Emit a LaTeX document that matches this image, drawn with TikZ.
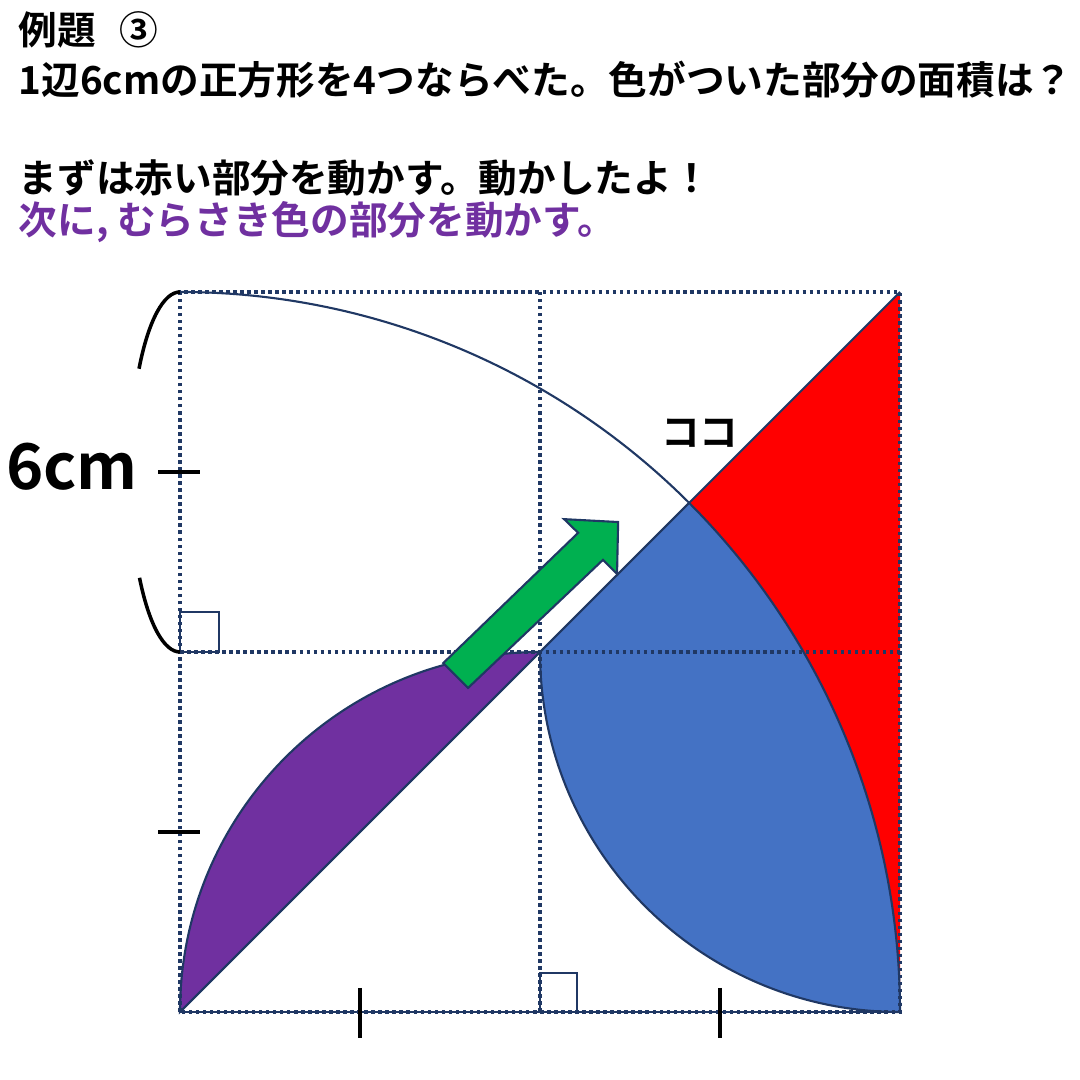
\documentclass[tikz,border=0pt]{standalone}
\usepackage{fontspec}
\setmainfont{Noto Sans CJK JP}[BoldFont={Noto Sans CJK JP Bold}]
\usepackage{tikz}
\definecolor{navy}{HTML}{203864}
\definecolor{murasaki}{HTML}{7030A0}
\definecolor{aoi}{HTML}{4472C4}
\definecolor{midori}{HTML}{00B050}

\begin{document}
\begin{tikzpicture}[x=3.6cm, y=3.6cm,
    grid line/.style={draw=navy, densely dotted, line width=1pt},
    edge line/.style={draw=navy, line width=0.6pt},
    tick/.style={black, line width=1pt},
    mondai/.style={font=\bfseries\fontsize{11pt}{13pt}\selectfont, anchor=west, inner sep=0pt}]
    \useasboundingbox (-0.5, -0.18889) rectangle (2.5, 2.81111);
    % colored parts
    \fill[red] (2, 2) -- (2, 0) arc[start angle=0, end angle=45, radius=2] -- cycle;
    \filldraw[edge line, fill=aoi] (1, 1) -- (45:2) arc[start angle=45, end angle=0, radius=2]
        arc[start angle=270, end angle=180, radius=1] -- cycle;
    \filldraw[edge line, fill=murasaki] (0, 0) arc[start angle=180, end angle=90, radius=1] -- cycle;
    \draw[edge line] (0, 2) arc[start angle=90, end angle=45, radius=2];
    \draw[edge line] (0, 0) -- (2, 2);
    % squares
    \draw[grid line] (0, 0) rectangle (2, 2);
    \draw[grid line] (1, 0) -- (1, 2);
    \draw[grid line] (0, 1) -- (2, 1);
    \draw[edge line] (0, 0) -- (2, 0);
    \draw[edge line] (0, 1) rectangle (0.108, 1.11);
    \draw[edge line] (1, 0) rectangle (1.103, 0.108);
    % marks
    \draw[tick] (-0.06, 1.5) -- (0.055, 1.5);
    \draw[tick] (-0.06, 0.5) -- (0.055, 0.5);
    \draw[tick] (0.5, 0.067) -- (0.5, -0.072);
    \draw[tick] (1.5, 0.067) -- (1.5, -0.072);
    \draw[tick] (0, 2) arc[start angle=90, end angle=145, x radius=0.139, y radius=0.5];
    \draw[tick] (0, 1) arc[start angle=270, end angle=216, x radius=0.139, y radius=0.5];
    % arrow
    \filldraw[edge line, fill=midori] (0.731, 0.969) -- (1.106, 1.331) -- (1.067, 1.369)
        -- (1.217, 1.361) -- (1.214, 1.217) -- (1.175, 1.256) -- (0.8, 0.9) -- cycle;
    % texts
    \node[mondai] (reidai) at (-0.45, 2.728) {例題\hspace{0.6em}③};
    \node[mondai] (mon) at (-0.45, 2.589) {1辺6cmの正方形を4つならべた。色がついた部分の面積は？};
    \node[mondai] (aka) at (-0.45, 2.317) {まずは赤い部分を動かす。動かしたよ！};
    \node[mondai, murasaki] (tsugi) at (-0.45, 2.194) {次に, むらさき色の部分を動かす。};
    \node[font=\bfseries\fontsize{18pt}{21pt}\selectfont] (nagasa) at (-0.3, 1.515) {6cm};
    \node[font=\bfseries\fontsize{11pt}{13pt}\selectfont] (koko) at (1.444, 1.608) {ココ};
\end{tikzpicture}
\end{document}
